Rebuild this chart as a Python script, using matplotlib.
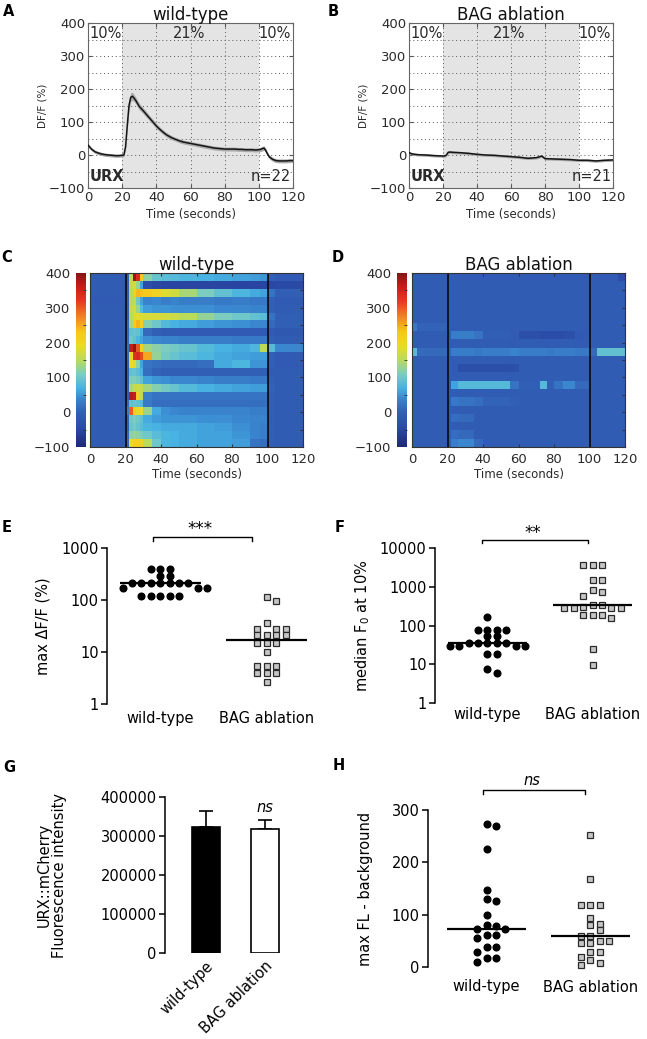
import numpy as np
import matplotlib
matplotlib.use('Agg')
import matplotlib.pyplot as plt
from matplotlib.colors import LinearSegmentedColormap
from matplotlib.ticker import FixedLocator, NullLocator, FuncFormatter

plt.rcParams['font.family'] = ['DejaVu Sans']
W, H = 647, 1039

# ---------------- data: traces (A, B) ----------------
tA = [0, 2, 4, 6, 8, 10, 12, 14, 16, 18, 20, 21,
      22, 23, 24, 25, 26, 27, 28,
      30, 32, 34, 36, 38, 40, 42, 44, 46, 48, 50, 52, 54, 56, 58, 60, 62, 64, 66, 68,
      70, 72, 74, 76, 78, 80, 82, 84, 86, 88, 90, 92, 94, 96, 98, 100,
      101, 102, 103, 104, 105, 106,
      108, 110, 112, 114, 116, 118, 120]
yA = [30, 18, 10, 6, 3, 1, 0, -1, -2, -2, -1, 0,
      25, 90, 150, 175, 178, 172, 165,
      147, 136, 124, 112, 100, 88, 78, 69, 61, 55, 50, 46, 42, 39, 37, 35, 33, 31, 29, 27,
      25, 23, 21, 20, 19, 18, 18, 18, 18, 17, 17, 16, 16, 16, 15, 16,
      17, 19, 21, 14, 4, -5,
      -13, -17, -18, -18, -18, -17, -17]
semA = [5, 5, 5, 5, 5, 5, 5, 5, 5, 5, 5, 5,
        8, 10, 14, 14, 12, 11, 10,
        10, 9, 9, 8, 8, 8, 7, 7, 7, 7, 6, 6, 6, 6, 6, 6, 6, 6, 6, 6,
        6, 6, 6, 6, 6, 6, 6, 6, 6, 6, 6, 6, 6, 6, 6, 6,
        7, 7, 7, 7, 6, 6,
        6, 6, 6, 6, 6, 6, 6]
tB = [0, 2, 5, 10, 15, 20, 21, 22, 23, 24, 26, 30, 35, 40, 45, 50, 55, 60, 65, 70,
      75, 77, 78, 79, 80, 85, 90, 95, 100, 105, 110, 115, 120]
yB = [7, 3, 1, 0, -2, -3, -3, 0, 8, 9, 8, 7, 5, 2, 0, -1, -3, -5, -7, -10,
      -8, -5, -3, -7, -11, -12, -13, -14, -16, -16, -18, -16, -15]
semB = 4

# ---------------- data: heatmaps (C, D) ----------------
WT_EDGES = [0, 20, 22, 24, 26, 28, 30, 35, 40, 45, 50, 60, 70, 80, 90, 96, 100, 104, 120]
WT_HEAT = [
    [-5, 0, 150, 390, 340, 230, 120, 95, 85, 80, 75, 70, 65, 60, 55, 50, 0, -10],
    [-5, 0, 160, 170, 130, 60, -40, -50, -55, -55, -55, -55, -55, -55, -55, -55, -50, -45],
    [-5, 0, 150, 210, 240, 235, 225, 210, 180, 170, 140, 110, 90, 75, 65, 60, 20, 0],
    [-10, 0, 150, 150, 100, 60, 35, 40, 30, 35, 30, 30, 25, 30, 25, 25, 0, -10],
    [-5, 0, 160, 170, 130, 80, 55, 50, 50, 45, 45, 45, 40, 40, 35, 35, 0, -5],
    [-5, 0, 150, 180, 185, 180, 175, 175, 170, 165, 150, 125, 110, 100, 90, 85, 20, 0],
    [-5, 10, 140, 230, 245, 220, 115, 100, 80, 70, 65, 55, 50, 45, 40, 40, 10, 0],
    [-5, 10, 90, 95, 90, 70, 10, 0, -5, -5, -10, -10, -10, -10, -10, -10, -10, -15],
    [-5, 10, 100, 90, 75, 60, 45, 40, 35, 35, 30, 30, 30, 25, 25, 25, 0, -5],
    [-5, 20, 360, 390, 300, 210, 135, 120, 110, 105, 95, 80, 70, 65, 75, 150, 80, 40],
    [-5, 10, 200, 330, 340, 310, 250, 125, 105, 95, 85, 75, 65, 60, 55, 55, 0, -10],
    [-10, 0, 190, 180, 120, 60, 20, 15, 10, 10, 10, 15, 65, 75, 50, 50, 0, -10],
    [-5, 0, 90, 95, 85, 70, 15, 5, 0, 0, 0, 0, 0, 0, 0, 0, -5, -5],
    [-5, 0, 110, 115, 105, 90, 60, 50, 45, 40, 40, 35, 30, 30, 25, 25, 0, -5],
    [-5, 0, 140, 160, 165, 160, 135, 115, 105, 95, 80, 70, 65, 60, 55, 55, 5, -5],
    [-5, 0, 370, 360, 220, 150, 30, 20, 20, 20, 20, 20, 20, 20, 20, 20, 0, -5],
    [-5, 10, 90, 95, 90, 80, 25, 15, 15, 15, 15, 15, 15, 15, 15, 15, 0, -5],
    [-5, 30, 300, 220, 200, 190, 130, 65, 45, 40, 35, 35, 35, 35, 30, 30, 0, -5],
    [-5, 0, 100, 110, 100, 90, 65, 55, 50, 50, 50, 45, 45, 40, 35, 35, 0, -5],
    [-5, 0, 95, 105, 95, 85, 75, 70, 65, 65, 65, 60, 55, 45, 35, 30, 0, -5],
    [-5, 10, 120, 130, 120, 110, 100, 85, 75, 70, 65, 60, 60, 50, 35, 30, 0, -5],
    [-5, 10, 190, 210, 215, 205, 150, 100, 75, 70, 65, 60, 60, 55, 20, 15, 0, -5],
]
BAG_EDGES = [0, 3, 20, 22, 26, 35, 40, 55, 60, 72, 76, 80, 85, 92, 100, 104, 116, 120]
B_FLAT = [-5, -5, -5, -5, -5, -5, -5, -5, -5, -5, -5, -5, -5, -5, -5, -5, -5]
B_TOP = [-5, -5, -5, -10, -10, -10, -10, -10, -10, -10, -10, -10, -10, -10, -5, -10, -40]
B_R7 = [25, 5, -5, -5, -5, -5, -5, -5, -5, -5, -5, -5, -5, -5, -5, -5, -5]
B_R8 = [-5, -5, -5, 30, 30, 20, 0, -5, -35, -40, -40, -40, -35, -10, -5, -5, -5]
B_R10 = [80, 10, 5, 30, 30, 25, 30, 35, 30, 30, 25, 30, 30, 25, 10, 90, 90]
B_R12 = [-5, -5, -5, -10, -35, -35, -35, -30, -5, -5, -5, -5, -5, -5, -5, -5, -5]
B_R14 = [-5, -5, -5, 60, 80, 80, 80, 20, 0, 80, 0, 20, 40, 10, -5, -5, -5]
B_R16 = [-5, -5, -5, 25, 20, 15, 5, 0, -5, -5, -5, -5, -5, -5, -5, -5, -5]
B_R18 = [-5, -5, -5, 15, 10, -5, -5, -5, -5, -5, -5, -5, -5, -5, -5, -5, -5]
B_R21 = [-5, -5, -5, 30, 40, 10, -5, -5, -5, -5, -5, -5, -5, -5, -5, -5, -5]
BAG_HEAT = [B_TOP, B_FLAT, B_FLAT, B_FLAT, B_FLAT, B_FLAT, B_R7, B_R8, B_FLAT, B_R10,
            B_FLAT, B_R12, B_FLAT, B_R14, B_FLAT, B_R16, B_FLAT, B_R18, B_FLAT, B_R18, B_R21]

# ---------------- data: E, F, G, H ----------------
GROUPS = ['wild-type', 'BAG ablation']
E_wt = [390, 390, 390, 295, 295, 217, 217, 217, 217, 217, 217, 217,
        170, 170, 170, 121, 121, 121, 121, 121]
E_bag = [114, 94, 36, 28, 28, 28, 21, 21, 21, 21, 15, 15, 15, 10,
         5.4, 5.4, 5.4, 4.0, 4.0, 4.0, 2.7]
E_med = [217, 17]
F_wt = [163, 78, 78, 78, 78, 53, 53, 36, 36, 36, 36, 36, 29, 29, 29, 29, 18.6, 18.6, 7.6, 6.0]
F_bag = [3560, 3560, 3560, 1520, 1520, 840, 718, 590, 346, 346, 300, 284, 284, 284, 284,
         191, 191, 191, 157, 25, 9.8]
F_med = [36, 346]
G_mean = [323000, 317000]
G_err = [41000, 23000]
H_wt = [274, 270, 225, 147, 129, 126, 99, 80, 78, 73, 73, 61, 61, 56, 38, 38, 29, 18, 18, 10]
H_bag = [253, 169, 118, 118, 119, 93, 80, 83, 70, 59, 59, 50, 50, 46, 46, 29, 29, 20, 13, 8, 3]
H_med = [73, 59]

# ---------------- figure ----------------
fig = plt.figure(figsize=(W / 100, H / 100), dpi=100)


def add_ax(l, t, r, b):
    return fig.add_axes([l / W, 1 - b / H, (r - l) / W, (b - t) / H])


def panel_label(x, y, s):
    fig.text(x / W, 1 - y / H, s, fontsize=10.5, fontweight='bold', ha='left', va='center')


TXT = '#2a2a2a'


def trace_panel(ax, t, y, sem, title, ntxt):
    t = np.asarray(t, float); y = np.asarray(y, float); sem = np.asarray(sem, float)
    ax.axvspan(20, 100, color='#e4e4e4', lw=0, zorder=0)
    ax.set_xlim(0, 120); ax.set_ylim(-100, 400)
    ax.set_xticks(range(0, 121, 20))
    ax.set_yticks(range(-100, 401, 100))
    ax.set_yticks(range(-50, 400, 100), minor=True)
    ax.grid(True, which='both', ls=(0, (1, 3)), color='#555555', lw=0.7)
    ax.fill_between(t, y - sem, y + sem, color='#aaaaaa', lw=0, zorder=2)
    ax.plot(t, y, color='#151515', lw=1.1, zorder=3)
    ax.tick_params(which='major', direction='in', top=True, right=True, length=3,
                   labelsize=9.5, labelcolor=TXT, color='#555555', pad=2)
    ax.tick_params(which='minor', length=0)
    for s in ax.spines.values():
        s.set_color('#666666'); s.set_linewidth(0.8)
    ax.set_title(title, fontsize=12, pad=2, color='#111111')
    ax.set_ylabel('DF/F (%)', fontsize=7.5, color=TXT, labelpad=1)
    ax.set_xlabel('Time (seconds)', fontsize=8.5, color=TXT, labelpad=3)
    kw = dict(fontsize=10.5, color=TXT, zorder=4)
    ax.text(0.8, 392, '10%', ha='left', va='top', **kw)
    ax.text(59, 392, '21%', ha='center', va='top', **kw)
    ax.text(119, 392, '10%', ha='right', va='top', **kw)
    ax.text(0.8, -88, 'URX', ha='left', va='bottom', fontweight='bold', **kw)
    ax.text(119, -88, ntxt, ha='right', va='bottom', **kw)


axA = add_ax(88, 23, 293, 188)
trace_panel(axA, tA, yA, semA, 'wild-type', 'n=22')
axB = add_ax(409, 23, 613, 188)
trace_panel(axB, tB, yB, semB, 'BAG ablation', 'n=21')

cmap = LinearSegmentedColormap.from_list('mjet', [
    (0.00, '#1e2878'), (0.10, '#2a48a5'), (0.20, '#325fb6'), (0.28, '#3a88cf'),
    (0.34, '#47b3e3'), (0.42, '#7ccdc0'), (0.50, '#b9da5a'), (0.58, '#e8dc26'),
    (0.66, '#f7c81c'), (0.74, '#f38a22'), (0.84, '#e53a20'), (0.93, '#c21c1c'),
    (1.00, '#861414')])


def heat_panel(ax, cax, edges, data, title):
    data = np.asarray(data, float)
    nr = data.shape[0]
    m = ax.pcolormesh(edges, np.arange(nr + 1), data, cmap=cmap, vmin=-100, vmax=400,
                      shading='flat', rasterized=True)
    ax.set_xlim(0, 120); ax.set_ylim(nr, 0)
    ax.axvline(20, color='#0a0a0a', lw=1.2)
    ax.axvline(100, color='#0a0a0a', lw=1.2)
    ax.set_xticks(range(0, 121, 20))
    ax.set_yticks(np.linspace(0, nr, 11)[1:-1])
    ax.tick_params(axis='y', left=False, right=True, labelleft=False, direction='in',
                   length=2.5, color='#333333')
    ax.tick_params(axis='x', top=True, direction='in', length=2.5, labelsize=9.5,
                   labelcolor=TXT, color='#333333', pad=4)
    for s in ax.spines.values():
        s.set_color('#333333'); s.set_linewidth(0.8)
    ax.set_title(title, fontsize=12, pad=2, color='#111111')
    ax.set_xlabel('Time (seconds)', fontsize=8.5, color=TXT, labelpad=2)
    cb = fig.colorbar(m, cax=cax, ticks=list(range(-100, 401, 100)))
    cb.outline.set_visible(False)
    cax.yaxis.set_ticks_position('left')
    cax.tick_params(length=0, labelsize=9.5, labelcolor=TXT, pad=4)
    cax.yaxis.set_minor_locator(FixedLocator(list(range(-50, 400, 50))))
    cax.tick_params(which='minor', length=2, right=True, left=False, direction='in',
                    color='#333333')


axC = add_ax(90, 273, 303, 447)
caxC = add_ax(76, 273, 86, 447)
heat_panel(axC, caxC, WT_EDGES, WT_HEAT, 'wild-type')
axD = add_ax(412, 273, 625, 447)
caxD = add_ax(397, 273, 407, 447)
heat_panel(axD, caxD, BAG_EDGES, BAG_HEAT, 'BAG ablation')


def swarm_px(ax, xc, vals, diam, step):
    pts = ax.transData.transform(np.column_stack([np.full(len(vals), xc), vals]))
    ys = pts[:, 1]
    cands = sorted([k * step for k in range(-12, 13)], key=lambda c: (abs(c), -c))
    placed = []
    offs = np.zeros(len(vals))
    for i in np.argsort(-ys, kind='stable'):
        for c in cands:
            if all((c - px) ** 2 + (ys[i] - py) ** 2 >= diam ** 2 for px, py in placed):
                offs[i] = c
                placed.append((c, ys[i]))
                break
    ppu = ax.bbox.width / (ax.get_xlim()[1] - ax.get_xlim()[0])
    return xc + offs / ppu


def style_dot_axes(ax, ylabel, labpad):
    for k in ['top', 'right', 'bottom']:
        ax.spines[k].set_visible(False)
    ax.spines['left'].set_linewidth(1.1)
    ax.tick_params(axis='y', direction='out', length=4, width=1.1, labelsize=10.5, pad=2)
    ax.tick_params(axis='x', length=0, labelsize=10.5, pad=labpad)
    ax.set_xticks([0, 1])
    ax.set_xticklabels(GROUPS)
    ax.set_ylabel(ylabel, fontsize=10.5)


def dot_groups(ax, wt, bag, med):
    xw = swarm_px(ax, 0, wt, 6.0, 9.4)
    ax.plot(xw, wt, 'o', ms=4.8, color='black', mec='black', clip_on=False, zorder=3)
    xb = swarm_px(ax, 1, bag, 6.0, 9.4)
    ax.plot(xb, bag, 's', ms=4.6, mfc='#c6c6c6', mec='#2a2a2a', mew=0.9, clip_on=False, zorder=3)
    for i, m in enumerate(med):
        ax.plot([i - 0.38, i + 0.38], [m, m], color='black', lw=1.6, zorder=4, solid_capstyle='butt')


def bracket(ax, x0, x1, ytop, ybot, txt, ty, italic=False, fs=12):
    ax.plot([x0, x0, x1, x1], [ybot, ytop, ytop, ybot], color='black', lw=1.0, clip_on=False)
    ax.text((x0 + x1) / 2 - 0.02, ty, txt, ha='center', va='center', fontsize=fs,
            style='italic' if italic else 'normal', clip_on=False)


logfmt = FuncFormatter(lambda v, _: '%g' % v)

# E
axE = add_ax(107, 548, 320, 704)
axE.set_yscale('log'); axE.set_ylim(1, 1000); axE.set_xlim(-0.5, 1.5)
axE.yaxis.set_major_locator(FixedLocator([1, 10, 100, 1000]))
axE.yaxis.set_minor_locator(NullLocator())
axE.yaxis.set_major_formatter(logfmt)
style_dot_axes(axE, 'max \u0394F/F (%)', 5)
axE.yaxis.set_label_coords((50 - 107) / 213, 0.5)
dot_groups(axE, E_wt, E_bag, E_med)
bracket(axE, -0.07, 0.86, 1630, 1360, '***', 2350)

# F
axF = add_ax(435, 548, 645, 703)
axF.set_yscale('log'); axF.set_ylim(1, 10000); axF.set_xlim(-0.5, 1.5)
axF.yaxis.set_major_locator(FixedLocator([1, 10, 100, 1000, 10000]))
axF.yaxis.set_minor_locator(NullLocator())
axF.yaxis.set_major_formatter(logfmt)
style_dot_axes(axF, 'median F$_0$ at 10%', 3)
axF.yaxis.set_label_coords((372 - 435) / 210, 0.5)
dot_groups(axF, F_wt, F_bag, F_med)
bracket(axF, -0.05, 0.96, 16400, 13700, '**', 24500)

# G
axG = add_ax(165, 797, 295, 953)
axG.set_xlim(-0.68, 1.5); axG.set_ylim(0, 400000)
axG.bar([0, 1], G_mean, width=0.47, color=['black', 'white'], edgecolor='black', lw=1.2, zorder=2)
axG.errorbar([0, 1], G_mean, yerr=[[0, 0], G_err], fmt='none', ecolor='black',
             elinewidth=1.2, capsize=5, capthick=1.2, zorder=1)
for k in ['top', 'right', 'bottom']:
    axG.spines[k].set_visible(False)
axG.spines['left'].set_linewidth(1.1)
axG.set_yticks(range(0, 400001, 100000))
axG.yaxis.set_major_formatter(FuncFormatter(lambda v, _: '%d' % v))
axG.tick_params(axis='y', direction='out', length=4, width=1.1, labelsize=10.5, pad=2)
axG.set_xticks([0, 1])
axG.set_xticklabels(GROUPS, rotation=45, ha='right', va='top', rotation_mode='anchor')
axG.tick_params(axis='x', length=0, labelsize=10.5, pad=4)
axG.set_ylabel('URX::mCherry\nFluorescence intensity', fontsize=10.5, linespacing=1.05)
axG.yaxis.set_label_coords((67 - 165) / 130, 0.5)
axG.text(1, 374000, 'ns', ha='center', va='center', fontsize=10.5, style='italic')

# H
axH = add_ax(428, 810, 642, 967)
axH.set_ylim(0, 300); axH.set_xlim(-0.565, 1.5)
axH.set_yticks([0, 100, 200, 300])
style_dot_axes(axH, 'max FL - background', 9)
axH.yaxis.set_label_coords((373 - 428) / 214, 0.5)
dot_groups(axH, H_wt, H_bag, H_med)
bracket(axH, -0.03, 0.95, 338, 330, 'ns', 357, italic=True, fs=10.5)

# panel letters
panel_label(3, 12, 'A')
panel_label(328, 12, 'B')
panel_label(1, 258, 'C')
panel_label(332, 257, 'D')
panel_label(2, 528, 'E')
panel_label(335, 528, 'F')
panel_label(3, 767, 'G')
panel_label(333, 765, 'H')

fig.savefig('out.png', dpi=100)
